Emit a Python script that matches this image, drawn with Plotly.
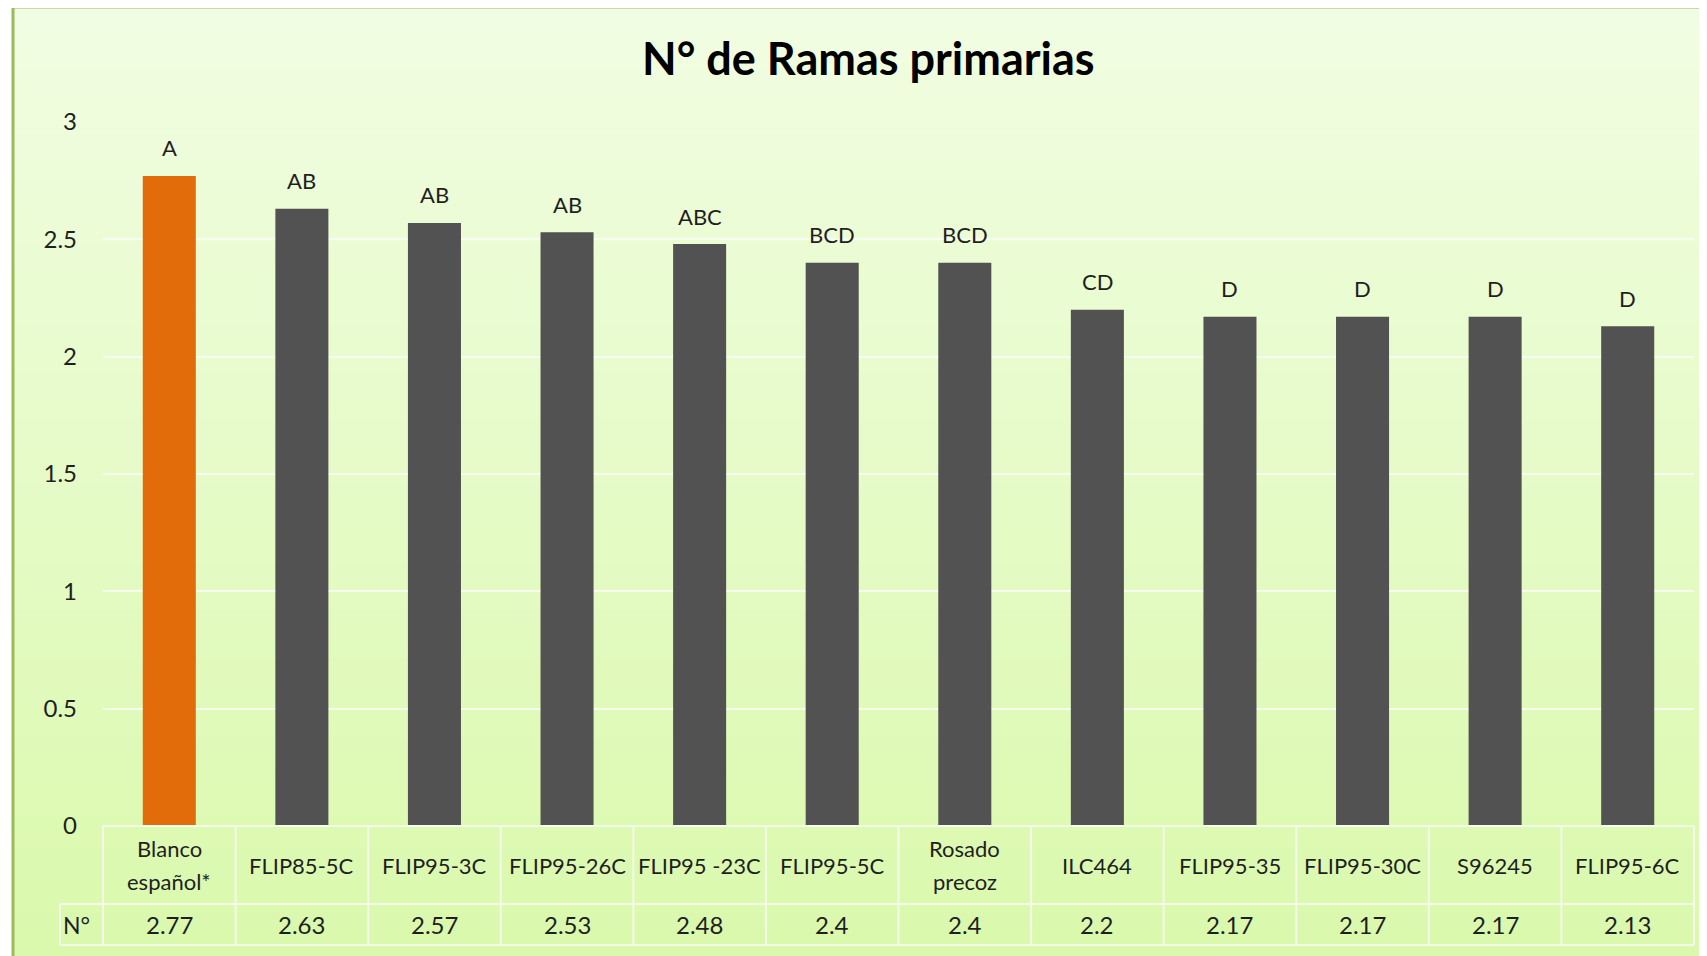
import plotly.graph_objects as go

categories = ["Blanco<br>español*", "FLIP85-5C", "FLIP95-3C", "FLIP95-26C", "FLIP95 -23C",
              "FLIP95-5C", "Rosado<br>precoz", "ILC464", "FLIP95-35", "FLIP95-30C",
              "S96245", "FLIP95-6C"]
values = [2.77, 2.63, 2.57, 2.53, 2.48, 2.4, 2.4, 2.2, 2.17, 2.17, 2.17, 2.13]
value_labels = ["2.77", "2.63", "2.57", "2.53", "2.48", "2.4", "2.4", "2.2", "2.17", "2.17", "2.17", "2.13"]
letters = ["A", "AB", "AB", "AB", "ABC", "BCD", "BCD", "CD", "D", "D", "D", "D"]
row_header = "N°"
title_text = "N° de Ramas primarias"

OFF = 8  # default page body margin
W, H = 1707 - OFF, 956 - OFF
L, R, T, B = 103 - OFF, 1694 - OFF, 122 - OFF, 826 - OFF  # plot area in px
FONT = "Lato, Calibri, Carlito, sans-serif"
TXT = "#1f1f1f"

def px_x(x):
    # x given in screen px
    return (x - OFF - L) / (R - L)

def px_y(y):
    return (B - (y - OFF)) / (B - T)

n = len(categories)
xs = list(range(n))
colors = ["#E36C0A"] + ["#525252"] * (n - 1)

fig = go.Figure()
fig.add_trace(go.Bar(
    x=xs, y=values, width=0.4,
    marker=dict(color=colors, line=dict(width=0)),
    hoverinfo="skip", showlegend=False,
))

shapes = []
# vertical gradient background inside the chart frame
top_c = (241, 253, 226)
bot_c = (218, 249, 172)
nb = 60
y0p, y1p = 7, 960
for i in range(nb):
    ya = y0p + (y1p - y0p) * i / nb
    yb = y0p + (y1p - y0p) * (i + 1) / nb + 1
    t = i / (nb - 1)
    c = tuple(round(top_c[k] + (bot_c[k] - top_c[k]) * t) for k in range(3))
    shapes.append(dict(type="rect", xref="paper", yref="paper", layer="below",
                       x0=px_x(14), x1=px_x(1720), y0=px_y(ya), y1=px_y(yb),
                       line=dict(width=0), fillcolor="rgb(%d,%d,%d)" % c))
# frame border
shapes.append(dict(type="line", xref="paper", yref="paper", x0=px_x(13), x1=px_x(13),
                   y0=px_y(6), y1=px_y(965), line=dict(color="#9BBB59", width=3)))
shapes.append(dict(type="line", xref="paper", yref="paper", x0=px_x(12), x1=px_x(1720),
                   y0=px_y(7), y1=px_y(7), line=dict(color="#9BBB59", width=3)))

# data table lines
lc = "#F4FBEA"
r1, r2, r3 = 826, 904, 945
Ls, Rs = 103, 1694
def hline(x0, x1, y):
    shapes.append(dict(type="line", xref="paper", yref="paper", x0=px_x(x0), x1=px_x(x1),
                       y0=px_y(y), y1=px_y(y), line=dict(color=lc, width=2)))
def vline(x, ya, yb):
    shapes.append(dict(type="line", xref="paper", yref="paper", x0=px_x(x), x1=px_x(x),
                       y0=px_y(ya), y1=px_y(yb), line=dict(color=lc, width=2)))
hline(Ls, Rs, r1)
hline(60, Rs, r2)
hline(60, Rs, r3)
vline(60, r2, r3)
cw = (Rs - Ls) / n
for i in range(n + 1):
    vline(Ls + i * cw, r1, r3)

annotations = []
line_gap = 33
for i in range(n):
    annotations.append(dict(x=xs[i], y=values[i], xref="x", yref="y", text=letters[i],
                            showarrow=False, yshift=28, yanchor="middle", xanchor="center",
                            font=dict(family=FONT, size=22, color=TXT)))
    parts = categories[i].split("<br>")
    k = len(parts)
    for j, part in enumerate(parts):
        shift = ((k - 1) / 2 - j) * line_gap
        annotations.append(dict(x=xs[i], y=px_y((r1 + r2) / 2), xref="x", yref="paper",
                                text=part, showarrow=False, yanchor="middle", xanchor="center",
                                yshift=shift,
                                font=dict(family=FONT, size=22, color=TXT)))
    annotations.append(dict(x=xs[i], y=px_y((r2 + r3) / 2), xref="x", yref="paper",
                            text=value_labels[i], showarrow=False, yanchor="middle",
                            xanchor="center",
                            font=dict(family=FONT, size=24, color=TXT)))
annotations.append(dict(x=px_x(76), y=px_y((r2 + r3) / 2), xref="paper", yref="paper",
                        text=row_header, showarrow=False, yanchor="middle", xanchor="center",
                        font=dict(family=FONT, size=23, color=TXT)))
annotations.append(dict(x=px_x(868), y=px_y(58), xref="paper", yref="paper",
                        text="<b>" + title_text + "</b>", showarrow=False, yanchor="middle",
                        xanchor="center",
                        font=dict(family=FONT, size=45, color="#000000")))

fig.update_layout(
    width=W, height=H,
    margin=dict(l=L, r=W - R, t=T, b=H - B, pad=0),
    paper_bgcolor="#FFFFFF",
    plot_bgcolor="rgba(0,0,0,0)",
    shapes=shapes,
    annotations=annotations,
    showlegend=False,
    bargap=0.6,
)
fig.update_xaxes(range=[-0.5, n - 0.5], showticklabels=False, showgrid=False,
                 zeroline=False, showline=False, ticks="", fixedrange=True)
fig.update_yaxes(range=[0, 3], dtick=0.5, showgrid=True,
                 gridcolor="#F7FDF0", gridwidth=1.5, zeroline=False, showline=False,
                 ticks="", ticklabelstandoff=25,
                 tickfont=dict(family=FONT, size=24, color=TXT), fixedrange=True)

fig.write_html("out.html")
